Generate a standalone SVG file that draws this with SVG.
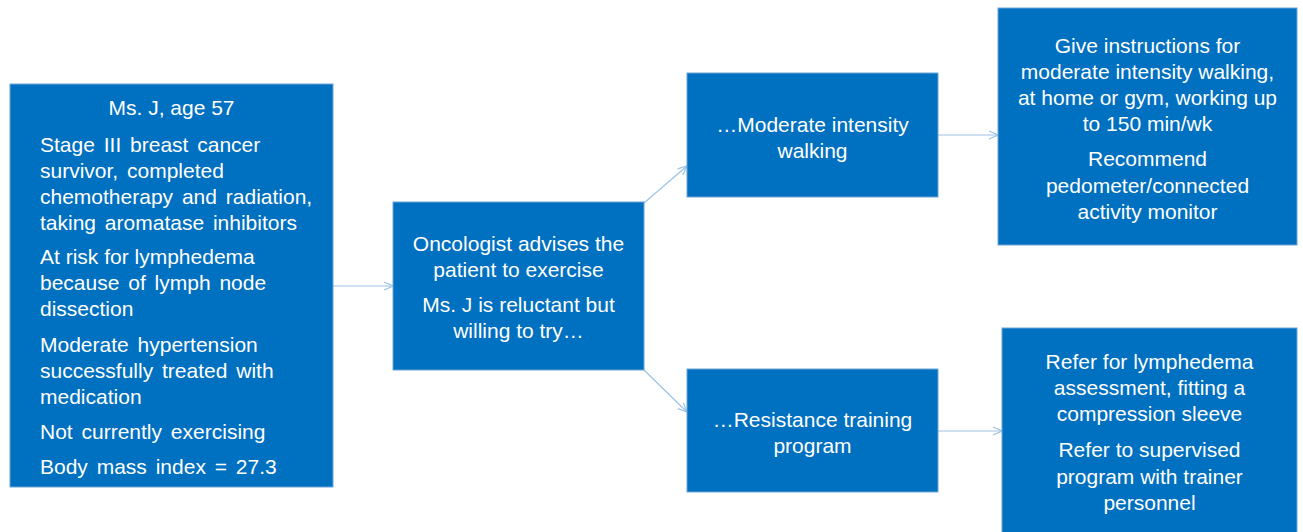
<svg xmlns="http://www.w3.org/2000/svg" width="1303" height="532" viewBox="0 0 1303 532">
<style>
.box{fill:#0070C0;stroke:#6FA3D6;stroke-width:1}
.t{font-family:"Liberation Sans",Arial,sans-serif;font-size:21px;fill:#FFFFFF}
.c{text-anchor:middle}
.con{stroke:#9DC3E6;stroke-width:1.2;fill:none}
</style>
<defs>
<marker id="arr" viewBox="0 0 10 10" refX="10" refY="5" markerWidth="10" markerHeight="10" markerUnits="userSpaceOnUse" orient="auto">
<path d="M1,1 L10,5 L1,9" fill="none" stroke="#9DC3E6" stroke-width="1.2"/>
</marker>
</defs>
<rect width="1303" height="532" fill="#FFFFFF"/>
<g id="connectors">
<line class="con" x1="333" y1="286" x2="393" y2="286" marker-end="url(#arr)"/>
<line class="con" x1="644" y1="203" x2="687" y2="166" marker-end="url(#arr)"/>
<line class="con" x1="644" y1="370" x2="687" y2="412" marker-end="url(#arr)"/>
<line class="con" x1="938" y1="135" x2="998" y2="135" marker-end="url(#arr)"/>
<line class="con" x1="938" y1="431" x2="1002" y2="431" marker-end="url(#arr)"/>
</g>
<g id="patient">
<rect class="box" x="10" y="84" width="323" height="403"/>
<text class="t c" x="171.5" y="115">Ms. J, age 57</text>
<text class="t" x="40" y="152" word-spacing="3">Stage III breast cancer</text>
<text class="t" x="40" y="178" word-spacing="3">survivor, completed</text>
<text class="t" x="40" y="204" word-spacing="3">chemotherapy and radiation,</text>
<text class="t" x="40" y="230" word-spacing="3">taking aromatase inhibitors</text>
<text class="t" x="40" y="264">At risk for lymphedema</text>
<text class="t" x="40" y="290" word-spacing="3">because of lymph node</text>
<text class="t" x="40" y="316">dissection</text>
<text class="t" x="40" y="352" word-spacing="3">Moderate hypertension</text>
<text class="t" x="40" y="378" word-spacing="3">successfully treated with</text>
<text class="t" x="40" y="404">medication</text>
<text class="t" x="40" y="439" word-spacing="3">Not currently exercising</text>
<text class="t" x="40" y="474" word-spacing="3">Body mass index = 27.3</text>
</g>
<g id="oncologist">
<rect class="box" x="393" y="202" width="251" height="168"/>
<text class="t c" x="518.5" y="251">Oncologist advises the</text>
<text class="t c" x="518.5" y="277">patient to exercise</text>
<text class="t c" x="518.5" y="312">Ms. J is reluctant but</text>
<text class="t c" x="518.5" y="338">willing to try…</text>
</g>
<g id="walking">
<rect class="box" x="687" y="73" width="251" height="124"/>
<text class="t c" x="812.5" y="132">…Moderate intensity</text>
<text class="t c" x="812.5" y="158">walking</text>
</g>
<g id="walking-detail">
<rect class="box" x="998" y="8" width="299" height="237"/>
<text class="t c" x="1147.5" y="53">Give instructions for</text>
<text class="t c" x="1147.5" y="79">moderate intensity walking,</text>
<text class="t c" x="1147.5" y="105">at home or gym, working up</text>
<text class="t c" x="1147.5" y="131">to 150 min/wk</text>
<text class="t c" x="1147.5" y="166">Recommend</text>
<text class="t c" x="1147.5" y="193">pedometer/connected</text>
<text class="t c" x="1147.5" y="219">activity monitor</text>
</g>
<g id="resistance">
<rect class="box" x="687" y="369" width="251" height="123"/>
<text class="t c" x="812.5" y="427">…Resistance training</text>
<text class="t c" x="812.5" y="453">program</text>
</g>
<g id="resistance-detail">
<rect class="box" x="1002" y="328" width="295" height="206"/>
<text class="t c" x="1149.5" y="369">Refer for lymphedema</text>
<text class="t c" x="1149.5" y="395">assessment, fitting a</text>
<text class="t c" x="1149.5" y="421">compression sleeve</text>
<text class="t c" x="1149.5" y="457">Refer to supervised</text>
<text class="t c" x="1149.5" y="484">program with trainer</text>
<text class="t c" x="1149.5" y="510">personnel</text>
</g>
</svg>
